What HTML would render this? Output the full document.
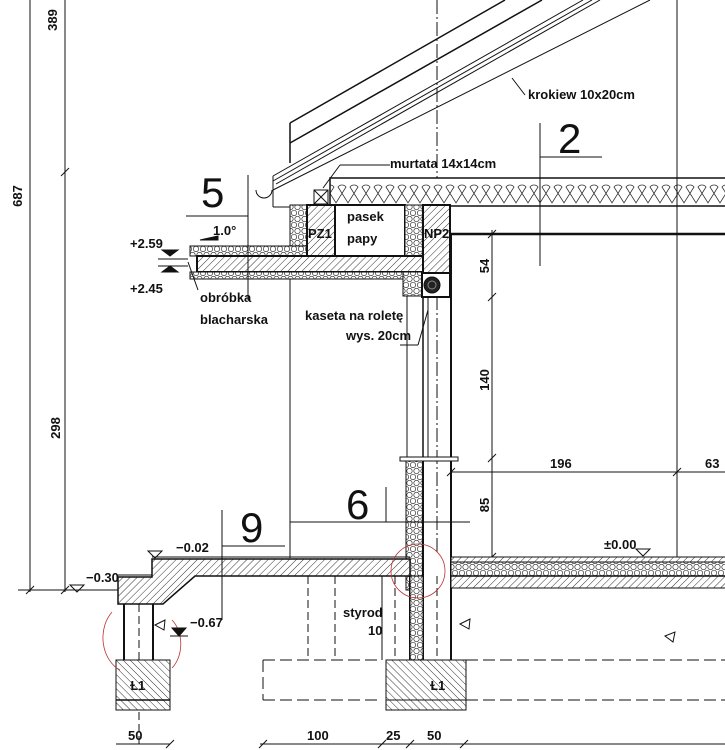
<!DOCTYPE html>
<html><head><meta charset="utf-8"><style>
html,body{margin:0;padding:0;background:#fff;}
svg{display:block;}
text{font-family:"Liberation Sans",sans-serif;fill:#111;}
.t{font-size:13px;font-weight:bold;}
</style></head><body>
<svg width="725" height="750" viewBox="0 0 725 750" xmlns="http://www.w3.org/2000/svg">
<defs>
<pattern id="h" width="5" height="5" patternUnits="userSpaceOnUse" patternTransform="rotate(45)">
<rect width="5" height="5" fill="#fff"/><line x1="0" y1="0" x2="0" y2="5" stroke="#333" stroke-width="1"/></pattern>
<pattern id="h2" width="5" height="5" patternUnits="userSpaceOnUse" patternTransform="rotate(-45)">
<rect width="5" height="5" fill="#fff"/><line x1="0" y1="0" x2="0" y2="5" stroke="#333" stroke-width="1"/></pattern>
<pattern id="b" width="7" height="12" patternUnits="userSpaceOnUse">
<rect width="7" height="12" fill="#fff"/><circle cx="3.5" cy="3" r="2.7" fill="none" stroke="#333" stroke-width="0.7"/><circle cx="0" cy="9" r="2.7" fill="none" stroke="#333" stroke-width="0.7"/><circle cx="7" cy="9" r="2.7" fill="none" stroke="#333" stroke-width="0.7"/></pattern>
<pattern id="w" x="0" y="178" width="12" height="28" patternUnits="userSpaceOnUse">
<rect width="12" height="28" fill="#fff"/><path d="M-2 28 L10 9 A5 5 0 0 0 2 9 L14 28" fill="none" stroke="#333" stroke-width="0.8"/></pattern>
</defs>
<g stroke="#111" fill="none" stroke-width="1">
<line x1="30" y1="0" x2="30" y2="592"/><line x1="65" y1="0" x2="65" y2="592"/>
<line x1="18" y1="590" x2="118" y2="590"/>
<line x1="61" y1="176" x2="69" y2="168"/><line x1="26" y1="594" x2="34" y2="586"/><line x1="61" y1="594" x2="69" y2="586"/>
<line x1="290" y1="123" x2="505" y2="0" stroke-width="1.5"/>
<line x1="290" y1="143" x2="542" y2="0" stroke-width="1.5"/>
<line x1="290" y1="123" x2="290" y2="163" stroke-width="1.5"/>
<line x1="273" y1="176" x2="583" y2="0"/><line x1="273" y1="181" x2="592" y2="0"/><line x1="276" y1="184" x2="600" y2="0"/>
<line x1="273" y1="190" x2="650" y2="0"/>
<line x1="273" y1="176" x2="273" y2="207"/><line x1="273" y1="207" x2="307" y2="207"/>
<path d="M256 190 A7 7 0 0 0 272 190"/>
<line x1="512" y1="78" x2="525" y2="95"/>
<line x1="437" y1="0" x2="437" y2="180" stroke-dasharray="14 3 2 3"/>
<line x1="437" y1="296" x2="437" y2="555" stroke-dasharray="14 3 2 3"/>
<rect x="330" y="178" width="400" height="28" fill="url(#w)" stroke-width="1.5"/>
<rect x="314" y="190" width="14" height="14" fill="#fff"/><path d="M314 190 L328 204 M328 190 L314 204"/>
<line x1="323" y1="188" x2="340" y2="165"/><line x1="340" y1="165" x2="390" y2="165"/>
<line x1="450" y1="234" x2="725" y2="234" stroke-width="2.5"/>
<line x1="540" y1="123" x2="540" y2="266"/><line x1="540" y1="157" x2="602" y2="157"/>
<line x1="677" y1="0" x2="677" y2="557"/>
<path d="M190 246 L290 246 L290 205 L307 205 L307 246 L190 246 Z" fill="url(#b)"/>
<rect x="190" y="246" width="120" height="10" fill="url(#b)"/>
<rect x="307" y="205" width="28" height="51" fill="url(#h)" stroke-width="2"/>
<rect x="335" y="205" width="70" height="51" fill="#fff" stroke-width="2"/>
<rect x="405" y="205" width="18" height="80" fill="url(#b)"/>
<rect x="423" y="205" width="27" height="68" fill="url(#h)" stroke-width="2"/>
<rect x="197" y="256" width="226" height="16" fill="url(#h)" stroke-width="2"/>
<rect x="190" y="272" width="228" height="7" fill="url(#b)"/>
<rect x="403" y="272" width="20" height="24" fill="url(#b)"/>
<rect x="422" y="273" width="28" height="24" fill="#fff" stroke-width="2"/>
<circle cx="432" cy="285" r="8" fill="#222"/><circle cx="432" cy="285" r="4" fill="none" stroke="#888"/>
<line x1="248" y1="175" x2="248" y2="300"/><line x1="186" y1="216" x2="248" y2="216"/>
<line x1="290" y1="279" x2="290" y2="558"/>
<path d="M200 240 L218 240 L218 236 Z" fill="#111"/>
<line x1="188" y1="262" x2="198" y2="290"/>
<line x1="407" y1="296" x2="407" y2="460"/><line x1="423" y1="296" x2="423" y2="460" stroke-width="1.5"/>
<line x1="428" y1="296" x2="428" y2="460"/>
<line x1="451" y1="234" x2="451" y2="660" stroke-width="2"/>
<rect x="400" y="457" width="58" height="4" fill="#fff"/>
<rect x="406" y="461" width="17" height="129" fill="url(#b)"/>
<line x1="423" y1="461" x2="423" y2="660" stroke-width="2"/>
<line x1="428" y1="310" x2="418" y2="345"/><line x1="418" y1="345" x2="400" y2="345"/>
<line x1="492" y1="230" x2="492" y2="560"/>
<line x1="488" y1="238" x2="496" y2="230"/><line x1="488" y1="301" x2="496" y2="293"/><line x1="488" y1="462" x2="496" y2="454"/><line x1="488" y1="561" x2="496" y2="553"/>
<line x1="450" y1="472" x2="725" y2="472"/>
<line x1="673" y1="476" x2="681" y2="468"/><line x1="447" y1="476" x2="455" y2="468"/>
<line x1="386" y1="487" x2="386" y2="522"/><line x1="335" y1="522" x2="470" y2="522"/>
<line x1="290" y1="522" x2="345" y2="522"/>
<rect x="451" y="557" width="280" height="5" fill="url(#h)"/>
<rect x="451" y="562" width="280" height="14" fill="url(#b)"/>
<rect x="451" y="576" width="280" height="12" fill="url(#h)"/>
<line x1="451" y1="557" x2="725" y2="557"/>
<line x1="451" y1="576" x2="725" y2="576" stroke-width="1.5"/>
<path d="M152 559 L410 559 L410 576 L195 576 L163 604 L118 604 L118 577 L152 577 Z" fill="url(#h)" stroke-width="1.5"/>
<line x1="152" y1="557" x2="410" y2="557"/><line x1="118" y1="575" x2="152" y2="575"/>
<line x1="222" y1="510" x2="222" y2="620"/><line x1="222" y1="546" x2="285" y2="546"/>
<line x1="124" y1="604" x2="124" y2="660" stroke-width="2"/><line x1="153" y1="604" x2="153" y2="660" stroke-width="2"/>
<line x1="139" y1="604" x2="139" y2="745" stroke-dasharray="8 4"/>
<rect x="116" y="660" width="54" height="50" fill="url(#h2)"/>
<line x1="116" y1="700" x2="170" y2="700" stroke-width="1.5"/><rect x="116" y="660" width="54" height="40"/>
<line x1="382" y1="576" x2="382" y2="660"/><line x1="410" y1="576" x2="410" y2="660" stroke-width="2"/>
<rect x="410" y="576" width="13" height="84" fill="url(#b)"/>
<rect x="386" y="660" width="80" height="50" fill="url(#h2)"/>
<rect x="386" y="660" width="80" height="40"/>
<line x1="395" y1="576" x2="395" y2="660" stroke-dasharray="8 4"/><line x1="437" y1="576" x2="437" y2="660" stroke-dasharray="8 4"/>
<line x1="308" y1="576" x2="308" y2="660" stroke-dasharray="8 4"/><line x1="335" y1="576" x2="335" y2="660" stroke-dasharray="8 4"/>
<path d="M263 660 L382 660 M466 660 L725 660 M263 700 L382 700 M466 700 L725 700 M263 660 L263 700" stroke-dasharray="12 5"/>
<line x1="116" y1="744" x2="170" y2="744"/>
<line x1="260" y1="744" x2="725" y2="744"/>
<path d="M166 748 L174 740 M259 748 L267 740 M378 748 L386 740 M406 748 L414 740 M460 748 L468 740"/>
<g stroke="#b33" stroke-width="0.8">
<path d="M112 612 A28 35 0 0 0 120 670"/><path d="M172 620 A22 30 0 0 1 172 668"/>
<circle cx="418" cy="571" r="27"/>
</g>
<path d="M70 585 L84 585 L77 592 Z"/><path d="M148 551 L162 551 L155 558 Z"/>
<path d="M636 549 L650 549 L643 556 Z"/>
<path d="M172 628 L186 628 L179 636 Z" fill="#111"/><line x1="170" y1="636" x2="188" y2="636"/>
<path d="M162 250 L178 250 L170 256 Z" fill="#111"/><path d="M162 272 L178 272 L170 266 Z" fill="#111"/>
<line x1="158" y1="259" x2="188" y2="259"/><line x1="158" y1="266" x2="188" y2="266"/>
<path d="M155 625 L165 620 L164 630 Z"/><path d="M460 624 L470 619 L469 629 Z"/><path d="M665 636 L675 632 L673 642 Z"/>
</g>
<text class="t" transform="translate(57,20) rotate(-90)" text-anchor="middle">389</text>
<text class="t" transform="translate(22,196) rotate(-90)" text-anchor="middle">687</text>
<text class="t" transform="translate(60,428) rotate(-90)" text-anchor="middle">298</text>
<text class="t" x="528" y="99">krokiew 10x20cm</text>
<text class="t" x="390" y="168">murtata 14x14cm</text>
<text x="558" y="153" font-size="42">2</text>
<text x="201" y="207" font-size="42">5</text>
<text x="240" y="542" font-size="42">9</text>
<text x="346" y="519" font-size="42">6</text>
<text class="t" x="213" y="235">1.0°</text>
<text class="t" x="308" y="238" font-size="16">PZ1</text>
<text class="t" x="424" y="238" font-size="16">NP2</text>
<text class="t" x="347" y="221">pasek</text>
<text class="t" x="347" y="243">papy</text>
<text class="t" x="130" y="248">+2.59</text>
<text class="t" x="130" y="293">+2.45</text>
<text class="t" x="200" y="302">obróbka</text>
<text class="t" x="200" y="324">blacharska</text>
<text class="t" x="305" y="320">kaseta na roletę</text>
<text class="t" x="346" y="340">wys. 20cm</text>
<text class="t" font-size="15" transform="translate(489,266) rotate(-90)" text-anchor="middle">54</text>
<text class="t" font-size="15" transform="translate(489,380) rotate(-90)" text-anchor="middle">140</text>
<text class="t" font-size="15" transform="translate(489,505) rotate(-90)" text-anchor="middle">85</text>
<text class="t" x="550" y="468" font-size="16">196</text>
<text class="t" x="705" y="468" font-size="16">63</text>
<text class="t" x="604" y="549">±0.00</text>
<text class="t" x="176" y="552">−0.02</text>
<text class="t" x="86" y="582">−0.30</text>
<text class="t" x="190" y="627">−0.67</text>
<text class="t" x="343" y="617">styrod</text>
<text class="t" x="368" y="635">10</text>
<text class="t" x="130" y="690">Ɫ1</text>
<text class="t" x="430" y="690">Ɫ1</text>
<text class="t" x="128" y="740" font-size="16">50</text>
<text class="t" x="307" y="740" font-size="16">100</text>
<text class="t" x="386" y="740" font-size="16">25</text>
<text class="t" x="427" y="740" font-size="16">50</text>
</svg>
</body></html>
